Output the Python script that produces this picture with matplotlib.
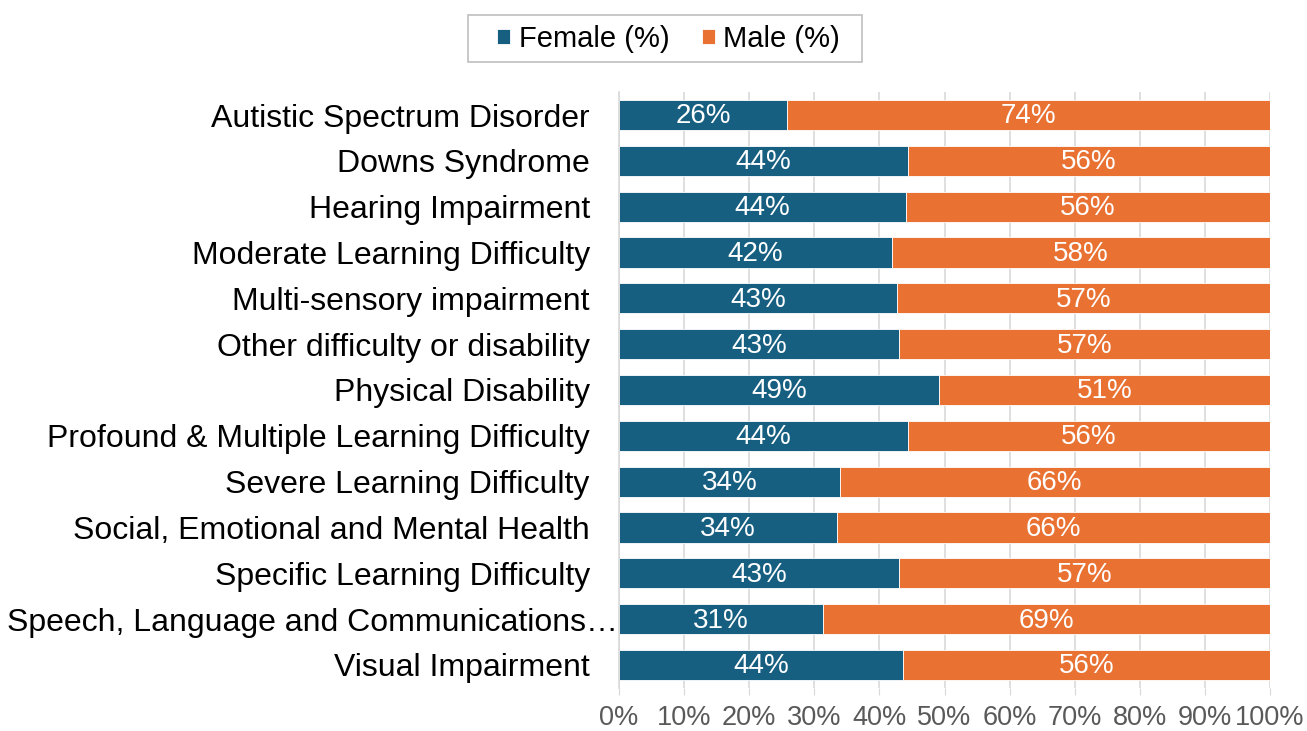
import matplotlib
matplotlib.use("Agg")
import matplotlib.pyplot as plt
from matplotlib.ticker import PercentFormatter
from matplotlib.patches import Rectangle

plt.rcParams['font.family'] = ['Liberation Sans', 'DejaVu Sans']

categories = [
    "Autistic Spectrum Disorder",
    "Downs Syndrome",
    "Hearing Impairment",
    "Moderate Learning Difficulty",
    "Multi-sensory impairment",
    "Other difficulty or disability",
    "Physical Disability",
    "Profound & Multiple Learning Difficulty",
    "Severe Learning Difficulty",
    "Social, Emotional and Mental Health",
    "Specific Learning Difficulty",
    "Speech, Language and Communications\u2026",
    "Visual Impairment",
]
female = [25.8, 44.4, 44.1, 41.9, 42.7, 43.0, 49.2, 44.4, 33.9, 33.5, 43.0, 31.3, 43.6]
male = [100 - f for f in female]

blue = "#175f81"
orange = "#e97132"

fig = plt.figure(figsize=(13.07, 7.31), dpi=100)
ax = fig.add_axes([0.4736, 0.059, 0.4981, 0.815])

y = list(range(len(categories)))
b1 = ax.barh(y, female, height=0.66, color=blue, edgecolor="white", linewidth=0.6, label="Female (%)")
b2 = ax.barh(y, male, left=female, height=0.66, color=orange, edgecolor="white", linewidth=0.6, label="Male (%)")

for bars, vals in ((b1, female), (b2, male)):
    for bar, v in zip(bars, vals):
        ax.text(bar.get_x() + bar.get_width() / 2, bar.get_y() + bar.get_height() / 2 + 0.03,
                f"{round(v):.0f}%", color="white", ha="center", va="center", fontsize=20)

ax.set_xlim(0, 100)
ax.set_ylim(len(categories) - 0.5, -0.5)
ax.set_yticks(y)
# the truncated label runs right up to the axis, like the original
labels = ["" if c.endswith("\u2026") else c for c in categories]
ax.set_yticklabels(labels, fontsize=23)
for i, c in enumerate(categories):
    if c.endswith("\u2026"):
        ax.annotate(c, xy=(0, i), xycoords=("axes fraction", "data"), xytext=(-1, 0),
                    textcoords="offset pixels", ha="right", va="center_baseline", fontsize=23)
ax.set_xticks(range(0, 101, 10))
ax.xaxis.set_major_formatter(PercentFormatter(decimals=0))
ax.tick_params(axis="x", labelsize=19.5, labelcolor="#595959", length=5, color="#d9d9d9", pad=7)
ax.tick_params(axis="y", length=0, pad=21)
ax.grid(axis="x", color="#d9d9d9", linewidth=1.2)
ax.set_axisbelow(True)
for s in ("top", "right", "bottom"):
    ax.spines[s].set_visible(False)
ax.spines["left"].set_color("#d9d9d9")
ax.spines["left"].set_linewidth(1.2)

# legend box drawn separately to get the wider padding of the original
fig.patches.append(Rectangle((468 / 1307, 1 - 62 / 731), 394 / 1307, 47 / 731,
                             transform=fig.transFigure, fill=False,
                             edgecolor="#bfbfbf", linewidth=1.2))
fig.legend(loc="center left", bbox_to_anchor=(497 / 1307, 1 - 39 / 731), ncol=2, fontsize=21,
           frameon=False, handlelength=0.45, handleheight=0.45, handletextpad=0.3,
           columnspacing=1.1, borderpad=0, borderaxespad=0)

fig.savefig("out.png", dpi=100)
